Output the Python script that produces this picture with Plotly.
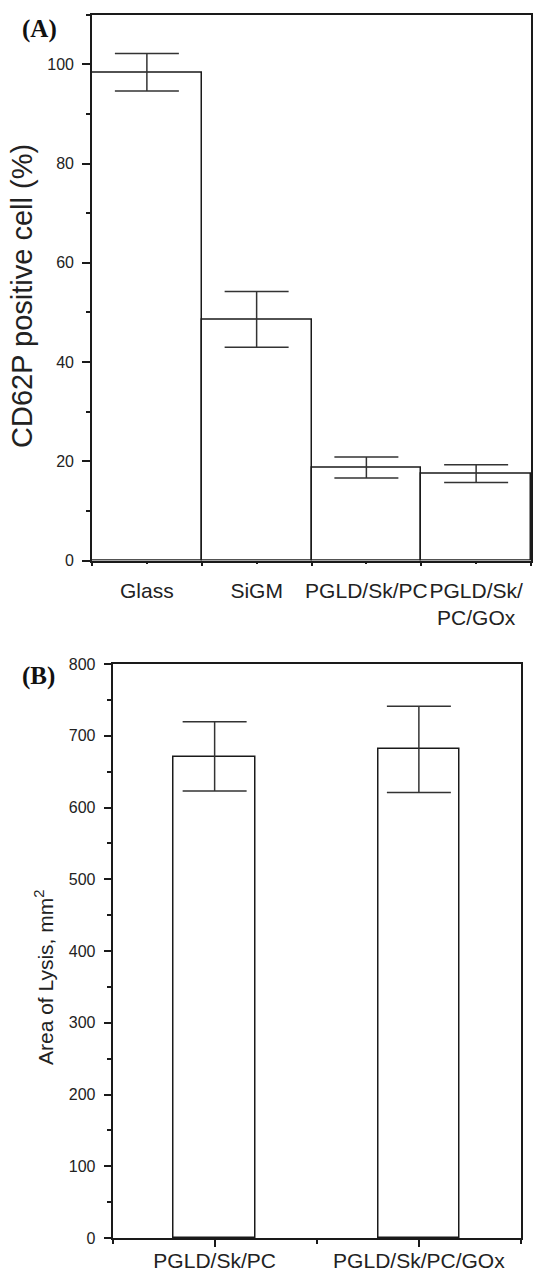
import plotly.graph_objects as go

# Panel A data
cats_a = ["Glass", "SiGM", "PGLD/Sk/PC", "PGLD/Sk/<br>PC/GOx"]
vals_a = [98.4, 48.6, 18.75, 17.5]
errs_a = [3.8, 5.6, 2.1, 1.8]
ytick_a = [0, 20, 40, 60, 80, 100]

# Panel B data
cats_b = ["PGLD/Sk/PC", "PGLD/Sk/PC/GOx"]
vals_b = [671, 682]
errs_b_plus = [48.5, 59]
errs_b_minus = [48, 61]
ytick_b = [0, 100, 200, 300, 400, 500, 600, 700, 800]

W, H = 538, 1272
LINE = "#1a1a1a"
FONT = "Liberation Sans, Arial, sans-serif"

fig = go.Figure()
xa = list(range(len(cats_a)))
fig.add_trace(go.Bar(
    x=xa, y=vals_a, width=1,
    marker=dict(color="white", line=dict(color=LINE, width=1.5)),
    error_y=dict(type="data", array=errs_a, color="#333", thickness=1.5, width=32),
    xaxis="x", yaxis="y", showlegend=False, hoverinfo="skip",
))
xb = list(range(len(cats_b)))
fig.add_trace(go.Bar(
    x=xb, y=vals_b, width=0.4,
    marker=dict(color="white", line=dict(color=LINE, width=1.5)),
    error_y=dict(type="data", symmetric=False, array=errs_b_plus, arrayminus=errs_b_minus,
                 color="#333", thickness=1.5, width=32),
    xaxis="x2", yaxis="y2", showlegend=False, hoverinfo="skip",
))

def px_x(p):
    return p / W

def px_y(p):
    return 1 - p / H

base_axis = dict(showline=True, linecolor=LINE, linewidth=1.6, mirror=True,
                 showgrid=False, zeroline=False, automargin=False,
                 tickcolor=LINE, tickwidth=1.5)
ytickfont = dict(family=FONT, size=16, color="#222")
xtickfont = dict(family=FONT, size=21, color="#222")

fig.update_layout(
    width=W, height=H,
    margin=dict(l=0, r=0, t=0, b=0),
    paper_bgcolor="white", plot_bgcolor="white",
    bargap=0,
    xaxis=dict(domain=[px_x(92), px_x(531)], range=[-0.5, len(cats_a) - 0.5],
               tickmode="array", tickvals=xa, ticktext=cats_a, ticks="outside", ticklen=2,
               tickangle=0, tickfont=xtickfont, ticklabelstandoff=8,
               minor=dict(tickmode="array", tickvals=[i - 0.5 for i in range(len(cats_a) + 1)],
                          ticks="outside", ticklen=4, tickcolor=LINE, tickwidth=1.5),
               anchor="y", **base_axis),
    yaxis=dict(domain=[px_y(560.5), px_y(14.7)], range=[0, 110],
               tickmode="array", tickvals=ytick_a, ticks="outside", ticklen=8,
               tickfont=ytickfont, ticklabelstandoff=5,
               minor=dict(tickmode="array", tickvals=[v + 10 for v in ytick_a],
                          ticks="outside", ticklen=4, tickcolor=LINE, tickwidth=1.5),
               anchor="x", **base_axis),
    xaxis2=dict(domain=[px_x(112.5), px_x(521)], range=[-0.5, len(cats_b) - 0.5],
                tickmode="array", tickvals=xb, ticktext=cats_b, ticks="outside", ticklen=7,
                tickangle=0, tickfont=xtickfont, ticklabelstandoff=-4,
                minor=dict(tickmode="array", tickvals=[i - 0.5 for i in range(len(cats_b) + 1)],
                           ticks="outside", ticklen=4, tickcolor=LINE, tickwidth=1.5),
                anchor="y2", **base_axis),
    yaxis2=dict(domain=[px_y(1238), px_y(664)], range=[0, 800],
                tickmode="array", tickvals=ytick_b, ticks="outside", ticklen=7,
                tickfont=ytickfont, ticklabelstandoff=5,
                minor=dict(tickmode="array", tickvals=[v + 50 for v in ytick_b[:-1]],
                           ticks="outside", ticklen=4, tickcolor=LINE, tickwidth=1.5),
                anchor="x2", **base_axis),
    annotations=[
        dict(text="<b>(A)</b>", x=px_x(39), y=px_y(29), xref="paper", yref="paper",
             showarrow=False, xanchor="center", yanchor="middle",
             font=dict(family="Liberation Serif, Times New Roman, serif", size=25, color="#111")),
        dict(text="<b>(B)</b>", x=px_x(38), y=px_y(676), xref="paper", yref="paper",
             showarrow=False, xanchor="center", yanchor="middle",
             font=dict(family="Liberation Serif, Times New Roman, serif", size=25, color="#111")),
        dict(text="CD62P positive cell (%)", x=px_x(22), y=px_y(296), xref="paper", yref="paper",
             showarrow=False, xanchor="center", yanchor="middle", textangle=-90,
             font=dict(family=FONT, size=29, color="#222")),
        dict(text="Area of Lysis, mm<sup>2</sup>", x=px_x(44), y=px_y(978), xref="paper", yref="paper",
             showarrow=False, xanchor="center", yanchor="middle", textangle=-90,
             font=dict(family=FONT, size=21, color="#222")),
    ],
)

fig.write_html("out.html", config={"displayModeBar": False},
               post_script="document.body.style.margin='0';")
